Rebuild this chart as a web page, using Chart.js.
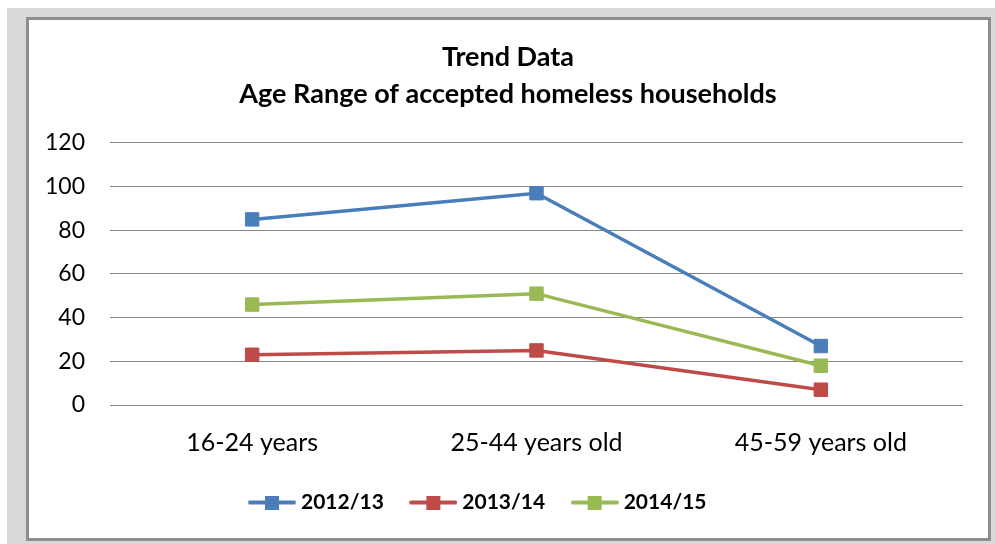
<!DOCTYPE html>
<html>
<head>
<meta charset="utf-8">
<script src="https://cdn.jsdelivr.net/npm/chart.js@4"></script>
<style>
    html, body { margin: 0; padding: 0; background: #ffffff; }
    #fondo {
        position: absolute; left: 7px; top: 8px; width: 988px; height: 536px;
        background: #d9d9d9;
    }
    #marco {
        position: absolute; left: 26px; top: 17px; width: 959px; height: 518px;
        border: 3px solid #8e8e8e; background: #ffffff;
    }
    #marco canvas { display: block; }
</style>
</head>
<body>
<div id="fondo"></div>
<div id="marco"><canvas id="myChart" width="959" height="518"></canvas></div>
<script>
// categorias y valores
const categorias = ["16-24 years", "25-44 years old", "45-59 years old"];
const series = ["2012/13", "2013/14", "2014/15"];
const valores2012 = [85, 97, 27];
const valores2013 = [23, 25, 7];
const valores2014 = [46, 51, 18];
const ticksY = [0, 20, 40, 60, 80, 100, 120];
const colores = ["#4a7ebb", "#be4b48", "#98b954"];

const fuente = "Lato, 'Open Sans', sans-serif";

// icono de la leyenda: linea con cuadrado en el medio
function iconoLeyenda(color) {
    const c = document.createElement("canvas");
    c.width = 48;
    c.height = 14;
    const g = c.getContext("2d");
    g.strokeStyle = color;
    g.lineWidth = 4;
    g.lineCap = "round";
    g.beginPath();
    g.moveTo(2, 7);
    g.lineTo(46, 7);
    g.stroke();
    g.fillStyle = color;
    g.fillRect(17, 0, 14, 14);
    return c;
}

// ajusta la posicion horizontal de leyenda y titulo como en el original
const moverCajas = {
    id: "moverCajas",
    beforeDraw: function (chart) {
        chart.legend.left -= 16;
        chart.legend.right -= 16;
        chart.titleBlock.left += 12;
        chart.titleBlock.right += 12;
    }
};

const datos = [valores2012, valores2013, valores2014];

const ctx = document.getElementById("myChart");

new Chart(ctx, {
    type: "line",
    data: {
        labels: categorias,
        datasets: series.map(function (nombre, i) {
            return {
                label: nombre,
                data: datos[i],
                borderColor: colores[i],
                backgroundColor: colores[i],
                borderWidth: 3.5,
                pointStyle: "rect",
                pointRadius: 9.5,
                pointBorderWidth: 1,
                pointBackgroundColor: colores[i],
                pointBorderColor: colores[i],
                tension: 0
            };
        })
    },
    plugins: [moverCajas],
    options: {
        responsive: false,
        animation: false,
        layout: { padding: { left: 0, right: 25, top: 19, bottom: 15 } },
        plugins: {
            title: {
                display: true,
                text: ["Trend Data", "Age Range of accepted homeless households"],
                color: "#000000",
                font: { family: fuente, size: 27, weight: "bold", lineHeight: 1.37 },
                padding: { top: 0, bottom: 30 }
            },
            legend: {
                position: "bottom",
                labels: {
                    usePointStyle: true,
                    pointStyleWidth: 37,
                    padding: 31,
                    color: "#000000",
                    font: { family: fuente, size: 21, weight: "bold" },
                    generateLabels: function (chart) {
                        return chart.data.datasets.map(function (ds, i) {
                            return {
                                text: ds.label,
                                fillStyle: ds.borderColor,
                                strokeStyle: ds.borderColor,
                                lineWidth: 0,
                                pointStyle: iconoLeyenda(ds.borderColor),
                                datasetIndex: i,
                                hidden: false
                            };
                        });
                    }
                }
            },
            tooltip: { enabled: false }
        },
        scales: {
            x: {
                offset: true,
                afterFit: function (scale) { scale.height = 56; },
                grid: { display: false, drawTicks: false },
                border: { display: false },
                ticks: { color: "#000000", padding: 23, font: { family: fuente, size: 25 } }
            },
            y: {
                min: 0,
                max: 120,
                afterFit: function (scale) { scale.width = 81; },
                afterBuildTicks: function (scale) {
                    scale.ticks = ticksY.map(function (v) { return { value: v }; });
                },
                grid: { color: "#868686", lineWidth: 1, drawTicks: false },
                border: { display: false },
                ticks: { color: "#000000", padding: 25, font: { family: fuente, size: 23 } }
            }
        }
    }
});
</script>
</body>
</html>
